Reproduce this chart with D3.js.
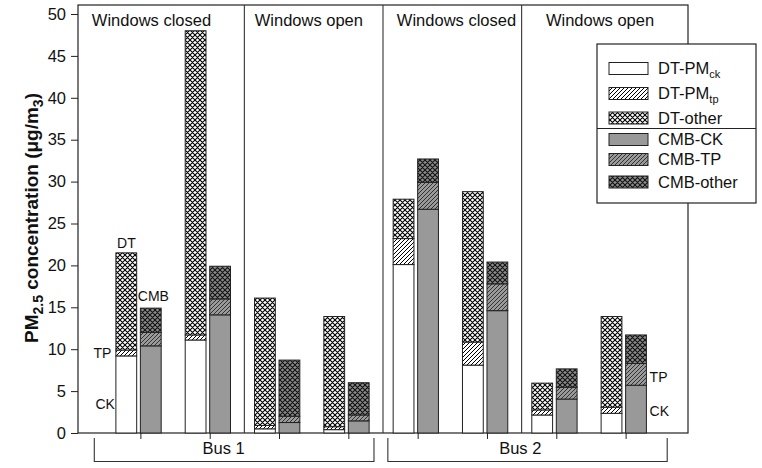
<!DOCTYPE html>
<html><head><meta charset="utf-8">
<script src="https://cdn.jsdelivr.net/npm/d3@7"></script>
<style>body{margin:0;background:#fff;} svg{display:block;font-family:Arial,"Liberation Sans",sans-serif;}</style>
</head><body><svg id="c" width="762" height="468"></svg>
<script>
const groups = [1,2,3,4,5,6,7,8];
const dtCK    = [9.2, 11.1, 0.5, 0.4, 20.1, 8.1, 2.15, 2.35];
const dtTP    = [0.7, 0.6, 0.4, 0.35, 3.1, 2.75, 0.6, 0.72];
const dtOther = [11.6, 36.3, 15.2, 13.15, 4.7, 17.95, 3.2, 10.83];
const cmbCK    = [10.4, 14.1, 1.25, 1.45, 26.7, 14.6, 4.05, 5.7];
const cmbTP    = [1.6, 1.9, 0.75, 0.7, 3.2, 3.2, 1.4, 2.6];
const cmbOther = [2.9, 3.9, 6.7, 3.85, 2.8, 2.6, 2.2, 3.4];
const yTicks = [0,5,10,15,20,25,30,35,40,45,50];
const sections = ["Windows closed","Windows open","Windows closed","Windows open"];
const buses = ["Bus 1","Bus 2"];
const legendLabels = [["DT-PM","ck"],["DT-PM","tp"],["DT-other",""],["CMB-CK",""],["CMB-TP",""],["CMB-other",""]];

const svg = d3.select("#c");
const L=78, R=688, T=5, B=433;
const x = d3.scaleLinear().domain([0.1, 8.9]).range([L, R]);
const y = d3.scaleLinear().domain([0, 50]).range([B, 14]);

// patterns
const defs = svg.append("defs");
function hatch(id, bg, fg, sw){
  const p = defs.append("pattern").attr("id",id).attr("patternUnits","userSpaceOnUse")
    .attr("width",4).attr("height",4);
  p.append("rect").attr("width",4).attr("height",4).attr("fill",bg);
  p.append("path").attr("d","M-1,1 l2,-2 M0,4 l4,-4 M3,5 l2,-2").attr("stroke",fg).attr("stroke-width",sw);
}
function cross(id, bg, fg, sw){
  const p = defs.append("pattern").attr("id",id).attr("patternUnits","userSpaceOnUse")
    .attr("width",5).attr("height",5);
  p.append("rect").attr("width",5).attr("height",5).attr("fill",bg);
  p.append("path").attr("d","M-1,1 l2,-2 M0,5 l5,-5 M4,6 l2,-2 M-1,4 l2,2 M0,0 l5,5 M4,-1 l2,2").attr("stroke",fg).attr("stroke-width",sw);
}
hatch("dtTP","#fff","#000",1);
cross("dtOther","#fff","#000",1.1);
hatch("cmbTP","#9a9a9a","#333",1);
cross("cmbOther","#8a8a8a","#111",1.1);
const fills = ["#fff","url(#dtTP)","url(#dtOther)","#999999","url(#cmbTP)","url(#cmbOther)"];

// frame
svg.append("rect").attr("x",L).attr("y",T).attr("width",R-L).attr("height",B-T)
  .attr("fill","none").attr("stroke","#222").attr("stroke-width",1.2);
[2.5,4.5,6.5].forEach(v=>{
  svg.append("line").attr("x1",x(v)).attr("x2",x(v)).attr("y1",T).attr("y2",B)
    .attr("stroke","#333").attr("stroke-width",1.1);
});

// bars
const dtRows = groups.map((g,i)=>({g, a:dtCK[i], b:dtTP[i], c:dtOther[i]}));
const cmbRows = groups.map((g,i)=>({g, a:cmbCK[i], b:cmbTP[i], c:cmbOther[i]}));
const stack = d3.stack().keys(["a","b","c"]);
const bw = x(1.3)-x(1);
function drawBars(rows, off, fillOffset){
  stack(rows).forEach((layer,li)=>{
    svg.append("g").selectAll("rect").data(layer).join("rect")
      .attr("x",d=>x(d.data.g)+off)
      .attr("y",d=>y(d[1]))
      .attr("width",bw)
      .attr("height",d=>y(d[0])-y(d[1]))
      .attr("fill",fills[fillOffset+li])
      .attr("stroke","#222").attr("stroke-width",1);
  });
}
drawBars(dtRows, -24.5, 0);
drawBars(cmbRows, 0, 3);

// y axis
const yAxis = d3.axisLeft(y).tickValues(yTicks).tickSize(7).tickPadding(5).tickSizeOuter(0);
const ga = svg.append("g").attr("transform",`translate(${L},0)`).call(yAxis);
ga.select(".domain").remove();
ga.selectAll("line").attr("stroke","#222");
ga.selectAll("text").attr("font-size",16.5).attr("font-family","Arial, 'Liberation Sans', sans-serif").attr("fill","#111");

// x axis ticks
const xAxis = d3.axisBottom(x).tickValues(groups).tickSize(6).tickFormat("");
const gx = svg.append("g").attr("transform",`translate(0,${B})`).call(xAxis);
gx.select(".domain").remove();
gx.selectAll("line").attr("stroke","#222");

// section headers
const secX = [x(0.3), x(2.65), x(4.7), x(6.85)];
sections.forEach((s,i)=>{
  svg.append("text").attr("x",secX[i]).attr("y",26).attr("font-size",16.5).attr("fill","#111").text(s);
});

// bus brackets
const bracket = [[0.335,4.37],[4.57,8.6]];
bracket.forEach((br,i)=>{
  const x0=x(br[0]), x1=x(br[1]);
  svg.append("path").attr("d",`M${x0},438 V461.5 H${x1} V438`).attr("fill","none").attr("stroke","#333").attr("stroke-width",1.1);
  svg.append("text").attr("x",x([2.2,6.48][i])).attr("y",454).attr("text-anchor","middle")
    .attr("font-size",16.5).attr("fill","#111").text(buses[i]);
});

// annotations
const ann = [["DT",x(1)-14,248,"middle"],["CMB",x(1)+13,301,"middle"],["TP",x(1)-47,358,"start"],["CK",x(1)-45,409,"start"],
  ["TP",x(8)+24,382,"start"],["CK",x(8)+24,416,"start"]];
ann.forEach(a=>{
  svg.append("text").attr("x",a[1]).attr("y",a[2]).attr("text-anchor",a[3]).attr("font-size",14).attr("fill","#111").text(a[0]);
});

// legend
const lg = svg.append("g");
lg.append("rect").attr("x",597).attr("y",44).attr("width",159).attr("height",159).attr("fill","#fff").attr("stroke","#222").attr("stroke-width",1.2);
lg.append("line").attr("x1",597).attr("x2",756).attr("y1",128.5).attr("y2",128.5).attr("stroke","#222").attr("stroke-width",1.1);
const rowY = [68.5, 93.5, 118, 139.5, 159.5, 182];
legendLabels.forEach((lab,i)=>{
  lg.append("rect").attr("x",609).attr("y",rowY[i]-6).attr("width",39).attr("height",12)
    .attr("fill",fills[i]).attr("stroke","#222").attr("stroke-width",1);
  const t = lg.append("text").attr("x",658).attr("y",rowY[i]+5.5).attr("font-size",16.5).attr("fill","#111");
  t.append("tspan").text(lab[0]);
  if(lab[1]) t.append("tspan").attr("font-size",11).attr("dy",4).text(lab[1]);
});

// y label
const yl = svg.append("text").attr("transform","translate(38,218) rotate(-90)").attr("text-anchor","middle")
  .attr("font-size",19).attr("font-weight","bold").attr("fill","#111");
yl.append("tspan").text("PM");
yl.append("tspan").attr("font-size",14).attr("dy",5).text("2.5");
yl.append("tspan").attr("dy",-5).text(" concentration (μg/m");
yl.append("tspan").attr("font-size",14).attr("dy",5).text("3");
yl.append("tspan").attr("dy",-5).text(")");
</script></body></html>
